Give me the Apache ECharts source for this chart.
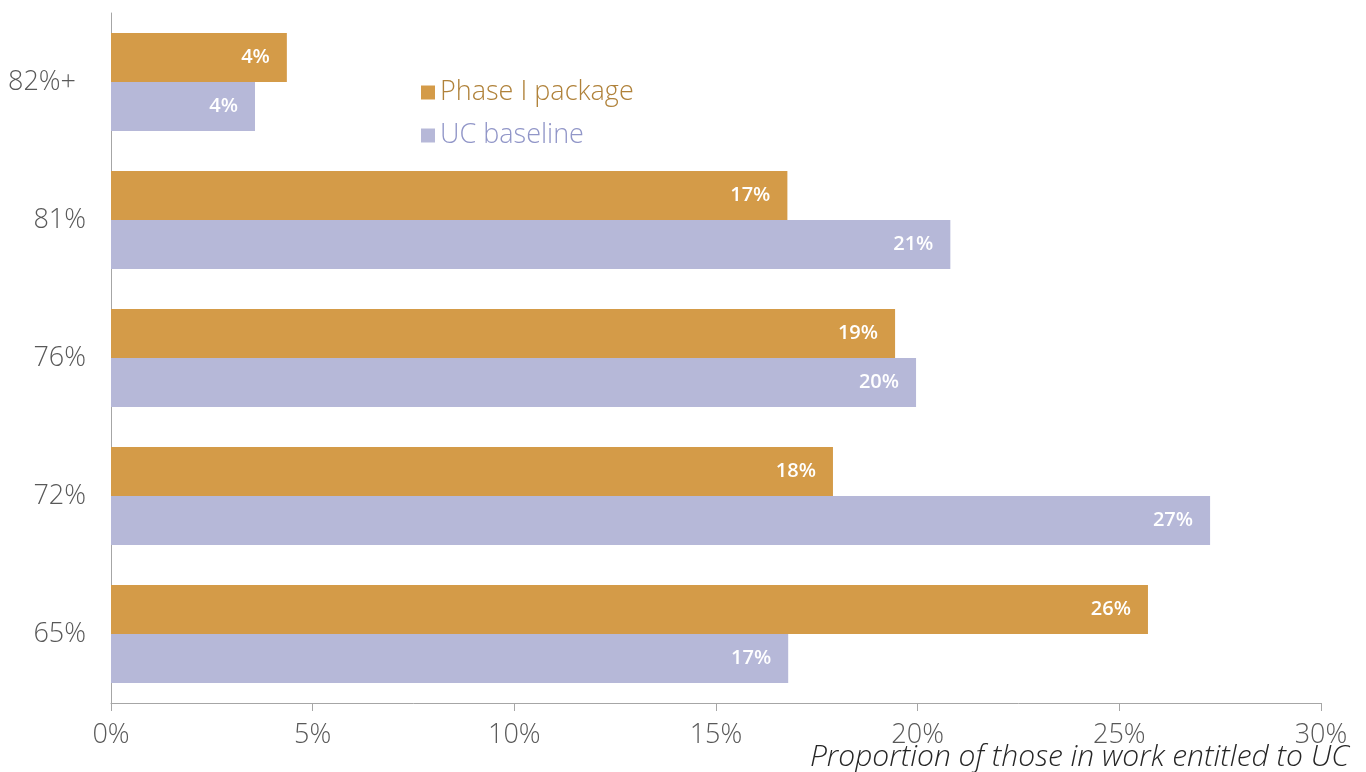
<!DOCTYPE html>
<html>
<head>
<meta charset="utf-8">
<script src="https://cdn.jsdelivr.net/npm/echarts@6/dist/echarts.min.js"></script>
<style>
	html, body { margin: 0; padding: 0; background: #ffffff; }
	#chart { width: 1366px; height: 772px; }
</style>
</head>
<body>
<div id="chart"></div>
<script>
	var categories = ['82%+', '81%', '76%', '72%', '65%'];
	var phaseOne = [4.36, 16.77, 19.44, 17.9, 25.71];
	var ucBaseline = [3.57, 20.81, 19.96, 27.25, 16.79];
	var xTicks = [0, 5, 10, 15, 20, 25, 30];

	var fontName = 'Open Sans';
	var myChart = echarts.init(document.getElementById('chart'));

	var barLabel = {
		show: true,
		position: 'insideRight',
		distance: 17,
		color: '#ffffff',
		fontFamily: fontName,
		fontSize: 20,
		fontWeight: 600,
		formatter: function (p) {
			return Math.round(p.value) + '%';
		}
	};

	var option = {
		animation: false,
		color: ['#D49B48', '#B6B8D8'],
		grid: {
			left: 111,
			right: 45,
			top: 13,
			bottom: 69,
			containLabel: false
		},
		legend: {
			orient: 'vertical',
			left: 416,
			top: 74,
			itemWidth: 14,
			itemHeight: 14,
			itemGap: 16,
			icon: 'rect',
			textStyle: {
				fontFamily: fontName,
				fontSize: 27,
				fontWeight: 300,
				padding: [0, 0, 0, 0]
			},
			data: [
				{ name: 'Phase I package', textStyle: { color: '#B0823A' } },
				{ name: 'UC baseline', textStyle: { color: '#9196C8' } }
			]
		},
		xAxis: {
			type: 'value',
			min: xTicks[0],
			max: xTicks[xTicks.length - 1],
			interval: 5,
			splitLine: { show: false },
			axisLine: { show: true, lineStyle: { color: '#a6a6a6', width: 1 } },
			axisTick: { show: true, length: 8, lineStyle: { color: '#a6a6a6' } },
			axisLabel: {
				color: '#595959',
				fontFamily: fontName,
				fontSize: 27,
				fontWeight: 300,
				margin: 19,
				formatter: '{value}%'
			}
		},
		yAxis: {
			type: 'category',
			inverse: true,
			data: categories,
			axisLine: { show: true, lineStyle: { color: '#a6a6a6', width: 1 } },
			axisTick: { show: false },
			axisLabel: {
				color: '#595959',
				fontFamily: fontName,
				fontSize: 27,
				fontWeight: 300,
				margin: 25,
				formatter: function (v) {
					return v.indexOf('+') >= 0 ? v + '{s|}' : v;
				},
				rich: {
					s: { width: 10 }
				}
			}
		},
		graphic: [{
			type: 'text',
			right: 17,
			top: 742,
			style: {
				text: 'Proportion of those in work entitled to UC',
				fill: '#262626',
				font: 'italic 300 30px ' + fontName
			}
		}],
		series: [{
			name: 'Phase I package',
			type: 'bar',
			barWidth: 49,
			barGap: '0%',
			data: phaseOne,
			label: barLabel
		}, {
			name: 'UC baseline',
			type: 'bar',
			barWidth: 49,
			barGap: '0%',
			data: ucBaseline,
			label: barLabel
		}]
	};

	myChart.setOption(option);
</script>
</body>
</html>
